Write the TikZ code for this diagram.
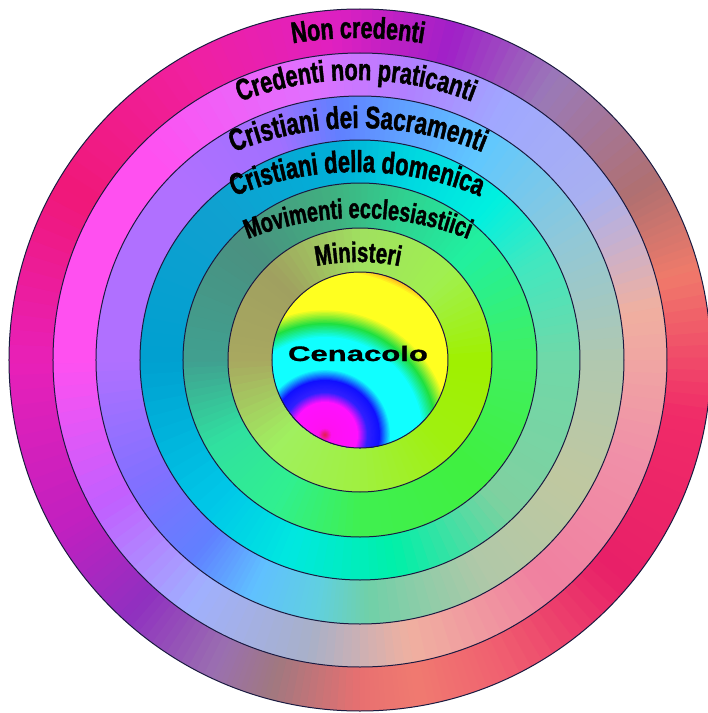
\documentclass[tikz,border=0pt]{standalone}
\usepackage{fontspec}
\usetikzlibrary{decorations.text}
\newfontfamily\arcfont[FakeStretch=0.72,FakeBold=1.4]{Liberation Sans Bold}
\newfontfamily\cenfont[FakeStretch=1.48,FakeBold=1]{Liberation Sans Bold}
\definecolor{outline}{HTML}{1A1A40}

% pie wedges with colours interpolated between angular stops
\newcommand\ringwedges[2]{%
  \foreach \aa/\ca/\ab/\cb in {#2} {%
    \definecolor{wa}{HTML}{\ca}\definecolor{wb}{HTML}{\cb}%
    \foreach \k in {0,...,11} {%
      \pgfmathsetmacro\sa{\aa+(\ab-\aa)*\k/12}%
      \pgfmathsetmacro\sb{\aa+(\ab-\aa)*(\k+1)/12+0.6}%
      \pgfmathtruncatemacro\pc{100*(\k+0.5)/12}%
      \fill[wb!\pc!wa] (0,0) -- (\sa:#1) arc[start angle=\sa, end angle=\sb, radius=#1] -- cycle;
    }%
  }%
}
% concentric discs with colours interpolated between radial stops (outer first)
\newcommand\discgrad[3]{%
  \foreach \ra/\ca/\rb/\cb in {#3} {%
    \definecolor{wa}{HTML}{\ca}\definecolor{wb}{HTML}{\cb}%
    \foreach \k in {0,...,9} {%
      \pgfmathsetmacro\rr{\rb-(\rb-\ra)*\k/10}%
      \pgfmathtruncatemacro\pc{100*(1-\k/10)}%
      \fill[wb!\pc!wa] (#1,#2) circle[radius=\rr];
    }%
  }%
}

\tikzset{
  ringline/.style={draw=outline, line width=1},
  arctext/.style={decorate, decoration={text along path, text align=center}}
}

\begin{document}
\begin{tikzpicture}[x=1pt,y=1pt]
\useasboundingbox (-360,-353) rectangle (348,360);
\fill[white] (-360,-353) rectangle (348,360);

% outer ring: Non credenti
\ringwedges{351}{-180/E820B8/-150/C020C0, -150/C020C0/-132/9030C0, -132/9030C0/-115/9A70B0, -115/9A70B0/-105/A07880, -105/A07880/-90/E87070, -90/E87070/-80/F07A70, -80/F07A70/-65/F06070, -65/F06070/-40/E82068, -40/E82068/-10/F02A68, -10/F02A68/15/F07A6A, 15/F07A6A/31/B07070, 31/B07070/55/9A7AB8, 55/9A7AB8/74/A020C8, 74/A020C8/95/E020C0, 95/E020C0/120/F020A0, 120/F020A0/150/F01878, 150/F01878/180/E820B8}
% Credenti non praticanti
\ringwedges{307}{-180/FF50F0/-150/C060FF, -150/C060FF/-125/A0B0FF, -125/A0B0FF/-100/A8B0C8, -100/A8B0C8/-80/F0B0A0, -80/F0B0A0/-50/F080A0, -50/F080A0/-20/F090A8, -20/F090A8/10/F0B0A0, 10/F0B0A0/35/A8B0F0, 35/A8B0F0/60/A0A8FF, 60/A0A8FF/80/B080FF, 80/B080FF/100/E070FF, 100/E070FF/135/FF50F0, 135/FF50F0/180/FF50F0}
% Cristiani dei Sacramenti
\ringwedges{264}{-180/B070FF/-150/8070FF, -150/8070FF/-130/6080FF, -130/6080FF/-115/60C0FF, -115/60C0FF/-100/60D0E0, -100/60D0E0/-88/70D0A8, -88/70D0A8/-60/B0C8A8, -60/B0C8A8/-30/C0C8A0, -30/C0C8A0/0/B0C8B0, 0/B0C8B0/30/90C8D8, 30/90C8D8/60/60C8FF, 60/60C8FF/80/60A0FF, 80/60A0FF/95/6080FF, 95/6080FF/110/A070FF, 110/A070FF/135/B070FF, 135/B070FF/180/B070FF}
% Cristiani della domenica
\ringwedges{220}{-180/00A0D0/-135/00C8E8, -135/00C8E8/-110/00E8E0, -110/00E8E0/-80/00F0A8, -80/00F0A8/-45/80D0A0, -45/80D0A0/0/70D8A8, 0/70D8A8/30/40E8C0, 30/40E8C0/50/00F0E0, 50/00F0E0/75/00D8E0, 75/00D8E0/95/00B0D8, 95/00B0D8/135/10A0D0, 135/10A0D0/180/00A0D0}
% Movimenti ecclesiastici
\ringwedges{177}{-180/40A090/-150/30E0A0, -150/30E0A0/-120/30F090, -120/30F090/-90/40F050, -90/40F050/-45/40F040, -45/40F040/0/40F060, 0/40F060/45/20F0A0, 45/20F0A0/75/30D090, 75/30D090/100/40B080, 100/40B080/135/4A9080, 135/4A9080/180/40A090}
% Ministeri
\ringwedges{132}{-180/A8A860/-135/A0F060, -135/A0F060/-90/A0F040, -90/A0F040/-45/A0F010, -45/A0F010/0/A0F000, 0/A0F000/45/A0F050, 45/A0F050/90/A0E060, 90/A0E060/135/A0A060, 135/A0A060/180/A8A860}

% Cenacolo disc
\begin{scope}
\clip (0,0) circle[radius=88];
\discgrad{-35}{-75}{180/FF5020/200/E02020, 165/FFFF20/180/FF5020, 126/FFFF20/165/FFFF20, 112/20E040/126/FFFF20, 98/10FFFF/112/20E040, 66/10FFFF/98/10FFFF, 55/1010FF/66/10FFFF, 43/3020FF/55/1010FF, 33/FF10FF/43/3020FF, 7/FF10F0/33/FF10FF, 0/E02040/7/FF10F0}
\end{scope}

% ring outlines
\foreach \r in {351,307,264,220,177,132,88} {
  \draw[ringline] (0,0) circle[radius=\r];
}

% labels
\path[arctext, decoration={text={|\arcfont\fontsize{29.8}{32}\selectfont|Non credenti}}]
  ([shift={(-2,-78)}]120:400) arc[start angle=120, end angle=60, radius=400];
\path[arctext, decoration={text={|\arcfont\fontsize{30.1}{32}\selectfont|Credenti non praticanti}}]
  ([shift={(-4,-40)}]130:320) arc[start angle=130, end angle=50, radius=320];
\path[arctext, decoration={text={|\arcfont\fontsize{31.1}{33}\selectfont|Cristiani dei Sacramenti}}]
  ([shift={(-2,-99)}]130:331) arc[start angle=130, end angle=50, radius=331];
\path[arctext, decoration={text={|\arcfont\fontsize{30.4}{32}\selectfont|Cristiani della domenica}}]
  ([shift={(-3,-134)}]130:322) arc[start angle=130, end angle=50, radius=322];
\path[arctext, decoration={text={|\arcfont\fontsize{27.5}{30}\selectfont|Movimenti ecclesiastiici}}]
  ([shift={(-2,-156)}]130:298) arc[start angle=130, end angle=50, radius=298];
\path[arctext, decoration={text={|\arcfont\fontsize{28.3}{30}\selectfont|Ministeri}}]
  ([shift={(-2,-112)}]130:210) arc[start angle=130, end angle=50, radius=210];

\node[anchor=base, inner sep=0pt, font=\cenfont\fontsize{21}{24}\selectfont] (cenacolo) at (-2,-1) {Cenacolo};
\end{tikzpicture}
\end{document}
